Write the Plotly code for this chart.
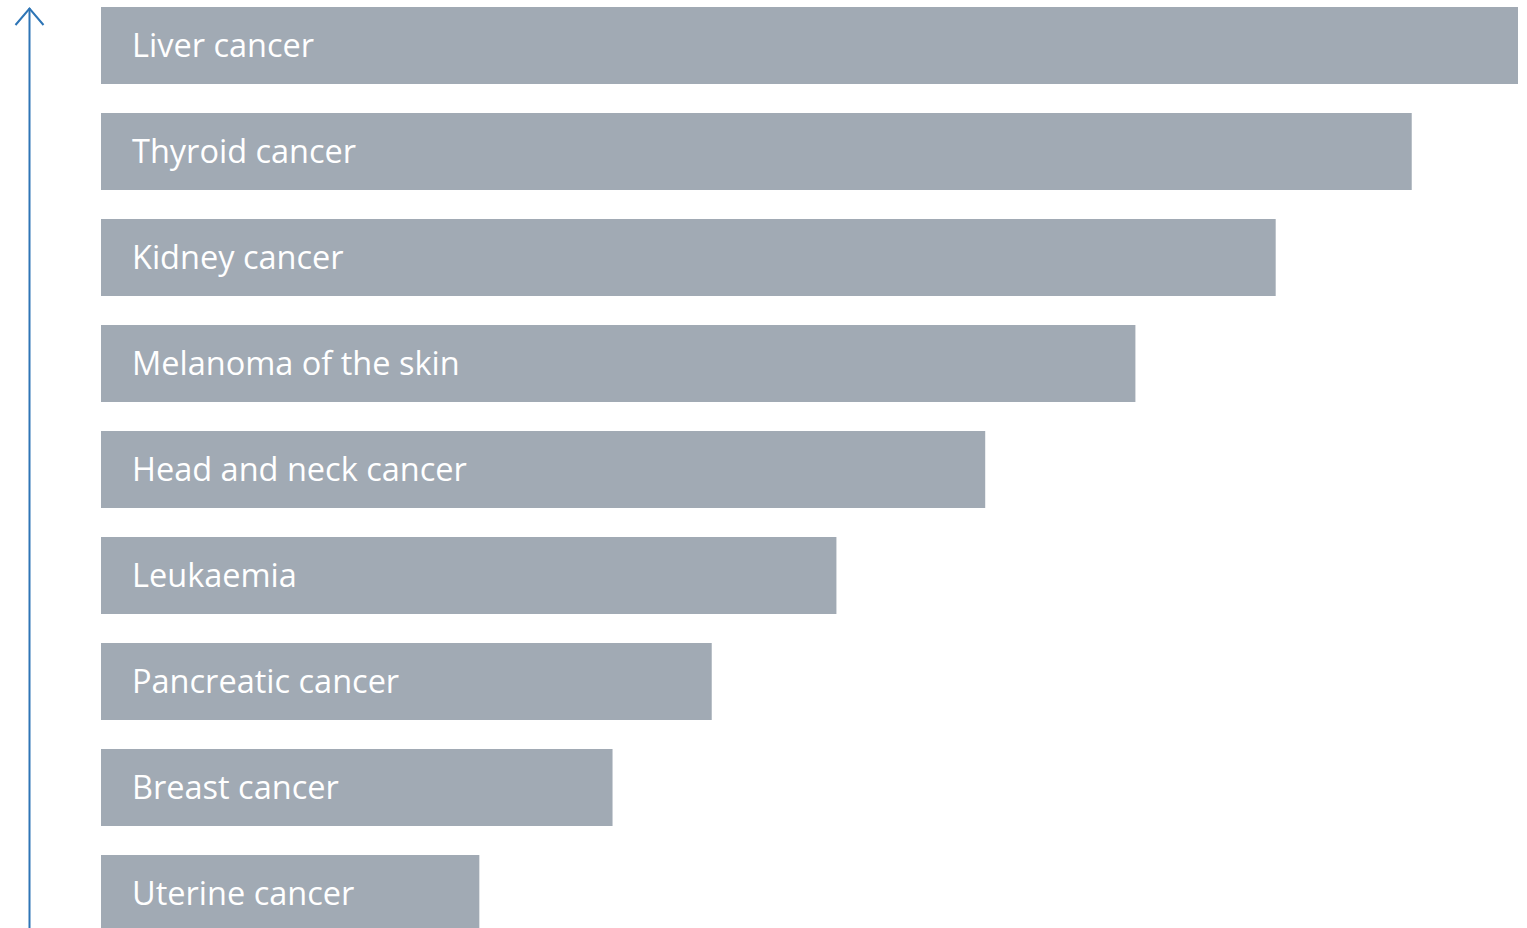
import plotly.graph_objects as go

# Cancer types, bottom to top, and their relative values
categories = [
    "Uterine cancer",
    "Breast cancer",
    "Pancreatic cancer",
    "Leukaemia",
    "Head and neck cancer",
    "Melanoma of the skin",
    "Kidney cancer",
    "Thyroid cancer",
    "Liver cancer",
]
values = [26.7, 36.1, 43.1, 51.9, 62.4, 73.0, 82.9, 92.5, 100.0]

W, H = 1527, 928
ML, MR, MT, MB = 101, 9, 0, 0
BAR_COLOR = "#A1AAB4"
ARROW_COLOR = "#2E75B6"

y_pos = list(range(len(categories)))

fig = go.Figure(
    go.Bar(
        x=values,
        y=y_pos,
        orientation="h",
        width=0.726,
        marker=dict(color=BAR_COLOR, line=dict(width=0)),
        hoverinfo="skip",
    )
)

for yi, label in zip(y_pos, categories):
    fig.add_annotation(
        x=0, y=yi, xref="x", yref="y",
        text=label, showarrow=False,
        xanchor="left", yanchor="middle", xshift=29, yshift=1,
        font=dict(family="Open Sans", size=32.5, color="white"),
    )

# Upward arrow along the left edge, placed in paper coordinates
plot_w = W - ML - MR
plot_h = H - MT - MB


def px(xp):
    return (xp - ML) / plot_w


def py(yp):
    return (H - MB - yp) / plot_h


fig.add_shape(
    type="line", xref="paper", yref="paper",
    x0=px(29.5), y0=py(930), x1=px(29.5), y1=py(8),
    line=dict(color=ARROW_COLOR, width=2),
)
fig.add_shape(
    type="path", xref="paper", yref="paper",
    path=f"M {px(15.5)} {py(25)} L {px(29.5)} {py(8.5)} L {px(43.5)} {py(25)}",
    line=dict(color=ARROW_COLOR, width=2),
)

fig.update_layout(
    width=W, height=H,
    margin=dict(l=ML, r=MR, t=MT, b=MB),
    plot_bgcolor="white", paper_bgcolor="white",
    showlegend=False,
    xaxis=dict(range=[0, 100], visible=False, fixedrange=True),
    yaxis=dict(range=[-0.3255, 8.429], visible=False, fixedrange=True),
)

fig.write_html("out.html")
